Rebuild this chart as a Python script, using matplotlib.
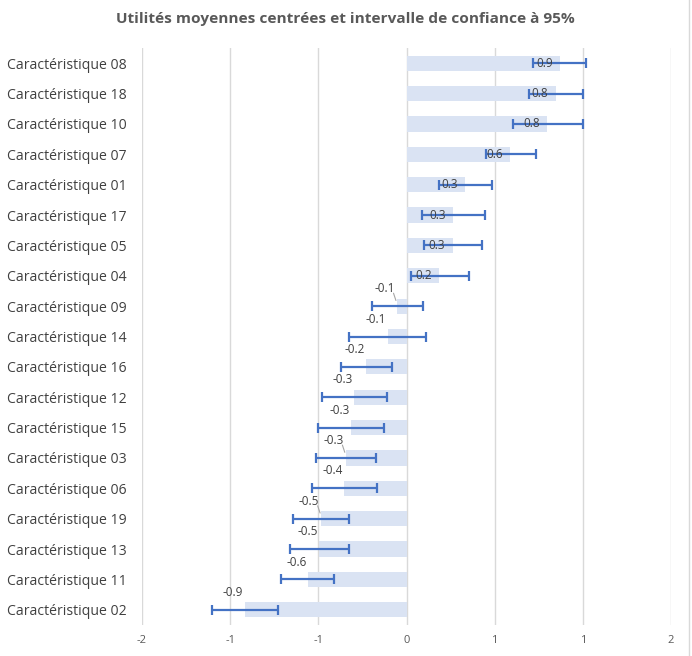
import matplotlib
matplotlib.use("Agg")
import matplotlib.pyplot as plt
from matplotlib.ticker import FixedLocator

categories = ["Caractéristique 08", "Caractéristique 18", "Caractéristique 10", "Caractéristique 07",
              "Caractéristique 01", "Caractéristique 17", "Caractéristique 05", "Caractéristique 04",
              "Caractéristique 09", "Caractéristique 14", "Caractéristique 16", "Caractéristique 12",
              "Caractéristique 15", "Caractéristique 03", "Caractéristique 06", "Caractéristique 19",
              "Caractéristique 13", "Caractéristique 11", "Caractéristique 02"]
values = [0.873, 0.845, 0.798, 0.588, 0.334, 0.266, 0.262, 0.187, -0.055, -0.105,
          -0.227, -0.296, -0.313, -0.345, -0.352, -0.485, -0.495, -0.558, -0.917]
lower = [0.72, 0.692, 0.602, 0.449, 0.183, 0.087, 0.102, 0.023, -0.196, -0.325,
         -0.371, -0.479, -0.502, -0.513, -0.536, -0.644, -0.662, -0.713, -1.105]
upper = [1.02, 1.003, 1.003, 0.734, 0.483, 0.445, 0.426, 0.352, 0.094, 0.11,
         -0.081, -0.113, -0.126, -0.175, -0.167, -0.324, -0.324, -0.41, -0.729]
x_ticks = [-1.5, -1.0, -0.5, 0.0, 0.5, 1.0, 1.5]
x_tick_labels = ["-2", "-1", "-1", "0", "1", "1", "2"]
leader_cats = ["Caractéristique 09", "Caractéristique 03", "Caractéristique 19"]

FONT = "Open Sans"
fig = plt.figure(figsize=(6.92, 6.56), dpi=100)
ax = fig.add_axes([142/692, 1-625/656, (671-142)/692, (625-48)/656])

n = len(categories)
ypos = list(range(n))
bar_color = "#DAE3F3"
err_color = "#4472C4"

ax.barh(ypos, values, height=0.5, color=bar_color, zorder=2)
xerr = [[v - lo for v, lo in zip(values, lower)], [hi - v for v, hi in zip(values, upper)]]
ax.errorbar(values, ypos, xerr=xerr, fmt="none", ecolor=err_color, elinewidth=1.6,
            capsize=3.5, capthick=1.6, zorder=3)

for y, v, c in zip(ypos, values, categories):
    lab = f"{v:.1f}"
    if v >= 0:
        ax.annotate(lab, (v, y), xytext=(-5.5, 0), textcoords="offset points",
                    ha="right", va="center", fontsize=8.5, color="#404040", family=FONT, zorder=4)
    else:
        ax.annotate(lab, (v, y), xytext=(-8.5, 12.5), textcoords="offset points",
                    ha="center", va="center", fontsize=8.5, color="#404040", family=FONT, zorder=4)
        if c in leader_cats:
            ax.annotate("", (v, y - 0.1), xytext=(-3, 9), textcoords="offset points",
                        arrowprops=dict(arrowstyle="-", color="#A6A6A6", lw=0.8), zorder=4)

ax.set_xlim(-1.5, 1.5)
ax.set_ylim(n - 0.5, -0.5)
ax.xaxis.set_major_locator(FixedLocator(x_ticks))
ax.set_xticklabels(x_tick_labels, family=FONT, fontsize=8, color="#595959")
ax.set_yticks(ypos)
ax.set_yticklabels(categories, family=FONT, fontsize=10.1, color="#404040", ha="left")
ax.tick_params(axis="y", length=0, pad=135 * 72 / 100)
ax.tick_params(axis="x", length=0, pad=7)
ax.grid(axis="x", color="#D9D9D9", lw=1, zorder=0)
for s in ax.spines.values():
    s.set_visible(False)

fig.text(345/692, 1-18.5/656, "Utilités moyennes centrées et intervalle de confiance à 95%",
         ha="center", va="center", fontsize=11.1, fontweight="bold", color="#595959", family=FONT)

fig.add_artist(plt.Line2D([689/692, 689/692], [0, 1], color="#D9D9D9", lw=1))

fig.savefig("out.png", dpi=100)
